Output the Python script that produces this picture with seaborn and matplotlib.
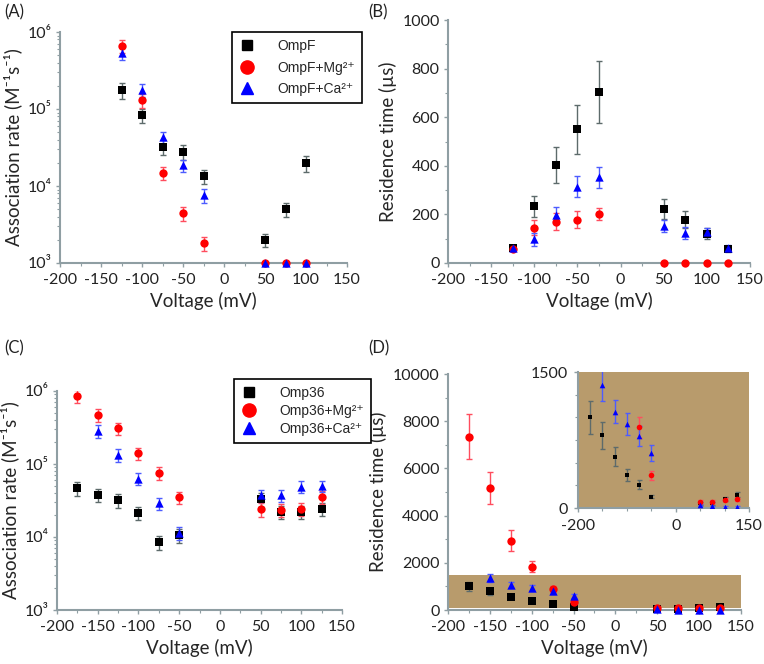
import matplotlib
matplotlib.use("Agg")
import matplotlib.pyplot as plt
import seaborn as sns
import numpy as np
from matplotlib.lines import Line2D
from matplotlib.ticker import MultipleLocator, LogLocator, FixedLocator, NullFormatter, FixedFormatter

# ---- panel A: association rate, OmpF ----
volt_a = [-125, -100, -75, -50, -25, 50, 75, 100]
ompf_a = [1.75e5, 8.3e4, 3.2e4, 2.8e4, 1.35e4, 2.0e3, 5.0e3, 1.97e4]
ompf_a_err = [4.0e4, 1.8e4, 7.0e3, 6.0e3, 2.8e3, 4.0e2, 1.1e3, 4.5e3]
ompf_mg_a = [6.6e5, 1.3e5, 1.48e4, 4.4e3, 1.8e3, 1.0e3, 1.0e3, 1.0e3]
ompf_mg_a_err = [1.3e5, 2.8e4, 3.0e3, 9.0e2, 3.8e2, 0, 0, 0]
ompf_ca_a = [5.3e5, 1.77e5, 4.3e4, 1.85e4, 7.6e3, 1.0e3, 1.0e3, 1.0e3]
ompf_ca_a_err = [1.0e5, 3.5e4, 8.0e3, 3.5e3, 1.5e3, 0, 0, 0]

# ---- panel B: residence time, OmpF ----
volt_b = [-125, -100, -75, -50, -25, 50, 75, 100, 125]
ompf_b = [62, 234, 404, 550, 705, 223, 179, 121, 59]
ompf_b_err = [8, 43, 73, 100, 127, 41, 34, 22, 13]
ompf_mg_b = [57, 146, 170, 179, 203, 0, 0, 0, 0]
ompf_mg_b_err = [5, 29, 35, 35, 25, 0, 0, 0, 0]
ompf_ca_b = [62, 97, 197, 314, 352, 152, 124, 126, 62]
ompf_ca_b_err = [8, 25, 33, 43, 42, 25, 24, 18, 13]

# ---- panel C: association rate, Omp36 ----
volt_c = [-175, -150, -125, -100, -75, -50, 50, 75, 100, 125]
omp36_c = [4.7e4, 3.8e4, 3.2e4, 2.15e4, 8.5e3, 1.05e4, 3.3e4, 2.2e4, 2.2e4, 2.45e4]
omp36_c_err = [1.0e4, 8.0e3, 7.0e3, 4.5e3, 1.8e3, 2.2e3, 7.0e3, 4.5e3, 4.5e3, 5.0e3]
omp36_mg_c = [8.5e5, 4.7e5, 3.1e5, 1.4e5, 7.6e4, 3.5e4, 2.4e4, 2.35e4, 2.45e4, 3.55e4]
omp36_mg_c_err = [1.7e5, 9.0e4, 6.0e4, 2.8e4, 1.5e4, 7.0e3, 5.0e3, 5.0e3, 5.0e3, 7.0e3]
omp36_ca_c = [np.nan, 2.85e5, 1.33e5, 6.3e4, 2.9e4, 1.15e4, 3.75e4, 3.75e4, 4.9e4, 5.0e4]
omp36_ca_c_err = [np.nan, 5.5e4, 2.6e4, 1.2e4, 5.5e3, 2.3e3, 7.0e3, 7.0e3, 9.0e3, 9.0e3]

# ---- panel D: residence time, Omp36 ----
volt_d = [-175, -150, -125, -100, -75, -50, 50, 75, 100, 125]
omp36_d = [1000, 800, 565, 365, 255, 125, 51, 51, 96, 147]
omp36_d_err = [180, 147, 105, 66, 50, 20, 15, 15, 20, 30]
omp36_mg_d = [7350, 5180, 2940, 1840, 890, 360, 70, 70, 92, 96]
omp36_mg_d_err = [950, 680, 430, 250, 115, 48, 15, 15, 15, 15]
omp36_ca_d = [np.nan, 1357, 1062, 923, 794, 603, 33, 18, 15, 11]
omp36_ca_d_err = [np.nan, 175, 130, 120, 105, 87, 10, 8, 8, 8]

labels_ompf = ["OmpF", "OmpF+Mg²⁺", "OmpF+Ca²⁺"]
labels_omp36 = ["Omp36", "Omp36+Mg²⁺", "Omp36+Ca²⁺"]

sns.set_theme(style="ticks")
plt.rcParams["font.family"] = ["Lato", "DejaVu Sans"]
plt.rcParams["axes.unicode_minus"] = False

GREY = "#8f9ea3"
TAN = "#b89b6c"
COLORS = ["#000000", "#ff0000", "#0000ff"]
ECOLORS = ["#5d6b6b", "#ff4d5e", "#4d5cff"]
MARKERS = ["s", "o", "^"]
SIZES = [26, 36, 36]
TICK_FS = 11.5
LAB_FS = 13.5

W, H = 764, 664
fig = plt.figure(figsize=(W / 100, H / 100), dpi=100)


def px_axes(x0, y0, x1, y1):
    return fig.add_axes([x0 / W, 1 - y1 / H, (x1 - x0) / W, (y1 - y0) / H])


def style(ax, fs=TICK_FS):
    sns.despine(ax=ax)
    for s in ["left", "bottom"]:
        ax.spines[s].set_color(GREY)
        ax.spines[s].set_linewidth(1.5)
    ax.tick_params(which="both", direction="out", color=GREY, labelsize=fs, labelcolor="#222222")
    ax.tick_params(axis="x", pad=4)
    ax.tick_params(axis="y", pad=3)
    ax.tick_params(which="major", length=3, width=1)
    ax.tick_params(which="minor", length=2, width=0.8)
    ax.set_xlim(-200, 150)
    ax.xaxis.set_major_locator(MultipleLocator(50))
    ax.xaxis.set_minor_locator(MultipleLocator(25))


def draw(ax, x, ys, errs, scale=1.0, cap=2.5):
    for y, e, c, ec, m, s in zip(ys, errs, COLORS, ECOLORS, MARKERS, SIZES):
        ax.errorbar(x, y, yerr=e, fmt="none", ecolor=ec, elinewidth=1, capsize=cap, capthick=1, zorder=2)
        sns.scatterplot(x=x, y=y, ax=ax, color=c, marker=m, s=s * scale, linewidth=0,
                        zorder=3, clip_on=False, legend=False)


def log_axis(ax):
    ax.set_yscale("log")
    ax.set_ylim(1e3, 1e6)
    ax.yaxis.set_major_locator(FixedLocator([1e3, 1e4, 1e5, 1e6]))
    ax.yaxis.set_major_formatter(FixedFormatter(["10³", "10⁴", "10⁵", "10⁶"]))
    ax.yaxis.set_minor_locator(LogLocator(base=10, subs=np.arange(2, 10)))
    ax.yaxis.set_minor_formatter(NullFormatter())
    ax.set_ylabel("Association rate (M⁻¹s⁻¹)", fontsize=LAB_FS)
    ax.set_xlabel("Voltage (mV)", fontsize=LAB_FS)


def add_legend(labels, x0, y0, spacing):
    handles = [Line2D([], [], linestyle="none", marker=m, color=c, markersize=ms)
               for m, c, ms in zip(MARKERS, COLORS, [7.5, 9.5, 9])]
    fig.legend(handles, labels, loc="upper left", bbox_to_anchor=(x0 / W, 1 - y0 / H),
               frameon=True, fancybox=False, edgecolor="black", framealpha=1,
               prop={"family": ["Liberation Sans", "DejaVu Sans"], "size": 10},
               handlelength=1.2, handletextpad=1.6, labelspacing=spacing, borderpad=0.5,
               borderaxespad=0)
    fig.legends[-1].get_frame().set_linewidth(1.2)


# (A)
ax_a = px_axes(60, 32, 347, 263)
style(ax_a)
log_axis(ax_a)
draw(ax_a, volt_a, [ompf_a, ompf_mg_a, ompf_ca_a], [ompf_a_err, ompf_mg_a_err, ompf_ca_a_err])
add_legend(labels_ompf, 232, 32, 0.55)

# (B)
ax_b = px_axes(448, 20, 750, 263)
style(ax_b)
ax_b.set_ylim(0, 1000)
ax_b.yaxis.set_major_locator(MultipleLocator(200))
ax_b.yaxis.set_minor_locator(MultipleLocator(100))
draw(ax_b, volt_b, [ompf_b, ompf_mg_b, ompf_ca_b], [ompf_b_err, ompf_mg_b_err, ompf_ca_b_err])
ax_b.set_ylabel("Residence time (µs)", fontsize=LAB_FS)
ax_b.set_xlabel("Voltage (mV)", fontsize=LAB_FS)

# (C)
ax_c = px_axes(57, 391, 342, 610)
style(ax_c)
log_axis(ax_c)
draw(ax_c, volt_c, [omp36_c, omp36_mg_c, omp36_ca_c], [omp36_c_err, omp36_mg_c_err, omp36_ca_c_err])
add_legend(labels_omp36, 234, 379, 0.3)

# (D)
ax_d = px_axes(448, 374, 741, 610)
style(ax_d)
ax_d.set_ylim(0, 10000)
ax_d.yaxis.set_major_locator(MultipleLocator(2000))
ax_d.yaxis.set_minor_locator(MultipleLocator(1000))
ax_d.axhspan(70, 1500, color=TAN, zorder=0, linewidth=0)
draw(ax_d, volt_d, [omp36_d, omp36_mg_d, omp36_ca_d], [omp36_d_err, omp36_mg_d_err, omp36_ca_d_err])
ax_d.set_ylabel("Residence time (µs)", fontsize=LAB_FS)
ax_d.set_xlabel("Voltage (mV)", fontsize=LAB_FS)

# inset of (D)
ax_in = px_axes(578, 372, 749, 508)
ax_in.set_facecolor(TAN)
style(ax_in)
ax_in.tick_params(axis="x", pad=5)
ax_in.tick_params(axis="y", pad=4)
ax_in.set_ylim(0, 1500)
ax_in.xaxis.set_major_locator(FixedLocator([-200, 0, 150]))
ax_in.xaxis.set_minor_locator(FixedLocator([-150, -100, -50, 50, 100]))
ax_in.yaxis.set_major_locator(FixedLocator([0, 1500]))
ax_in.yaxis.set_minor_locator(FixedLocator([250, 500, 750, 1000, 1250]))
ax_in.tick_params(which="minor", length=2)
draw(ax_in, volt_d, [omp36_d, omp36_mg_d, omp36_ca_d], [omp36_d_err, omp36_mg_d_err, omp36_ca_d_err],
     scale=0.45, cap=1.8)
for coll in ax_in.collections:
    coll.set_clip_on(True)

for txt, x, y in [("(A)", 4, 12), ("(B)", 368, 12), ("(C)", 4, 348), ("(D)", 368, 348)]:
    fig.text(x / W, 1 - y / H, txt, fontsize=12, va="center", ha="left", color="#222222")

fig.savefig("out.png", dpi=100)
